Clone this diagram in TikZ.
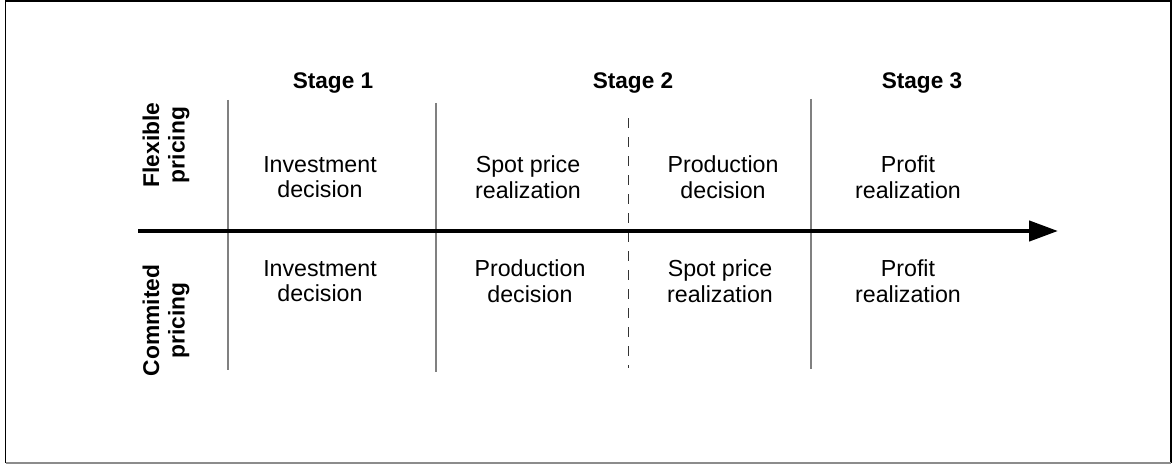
\documentclass[tikz,border=0pt]{standalone}
\usepackage{fontspec}
\setmainfont{Liberation Sans}
\usetikzlibrary{arrows.meta}
\begin{document}
\begin{tikzpicture}[x=0.5pt,y=-0.5pt,
  lbl/.style={font=\fontsize{11.6}{12.75}\selectfont, align=center, inner sep=0pt},
  stagelbl/.style={font=\fontsize{11.3}{12.75}\selectfont\bfseries, inner sep=0pt, anchor=base},
  sidelbl/.style={lbl, font=\fontsize{11.4}{12.75}\selectfont\bfseries, rotate=90},
  divider/.style={draw=black!50, line width=0.75pt},
  dashdiv/.style={draw=black!80, line width=0.5pt, dash pattern=on 5pt off 4.5pt},
  timeaxis/.style={draw=black, line width=2.25pt, -{Triangle[length=14.5pt,width=10pt]}}]
\useasboundingbox (0,0) rectangle (1176,465);
% frame
\draw[black, line width=0.75pt] (5.5,463) -- (5.5,1) -- (1171,1) -- (1171,463);
\draw[black!45, line width=0.75pt] (5.5,463) -- (1171,463);
% divider coordinates
\coordinate (d1t) at (228,100); \coordinate (d1b) at (228,370);
\coordinate (d2t) at (436,103); \coordinate (d2b) at (436,372);
\coordinate (d3t) at (811,99);  \coordinate (d3b) at (811,369);
\coordinate (dmt) at (628,118); \coordinate (dmb) at (628,368);
\draw[divider] (d1t) -- (d1b);
\draw[divider] (d2t) -- (d2b);
\draw[divider] (d3t) -- (d3b);
\draw[dashdiv] (dmt) -- (dmb);
% time axis
\coordinate (axs) at (138,231);
\coordinate (axe) at (1058,231);
\draw[timeaxis] (axs) -- (axe);
% stage labels
\node[stagelbl] (s1) at (333,89) {Stage 1};
\node[stagelbl] (s2) at (633,89) {Stage 2};
\node[stagelbl] (s3) at (922,89) {Stage 3};
% side labels
\node[sidelbl] (flex) at (166,145) {Flexible\\pricing};
\node[sidelbl] (comm) at (166,320.5) {Commited\\pricing};
% upper row
\node[lbl] (u1) at (320,177) {Investment\\decision};
\node[lbl] (u2) at (528,177) {Spot price\\realization};
\node[lbl] (u3) at (723,177) {Production\\decision};
\node[lbl] (u4) at (908,177) {Profit\\realization};
% lower row
\node[lbl] (l1) at (320,281) {Investment\\decision};
\node[lbl] (l2) at (530,281) {Production\\decision};
\node[lbl] (l3) at (720,281) {Spot price\\realization};
\node[lbl] (l4) at (908,281) {Profit\\realization};
\end{tikzpicture}
\end{document}
